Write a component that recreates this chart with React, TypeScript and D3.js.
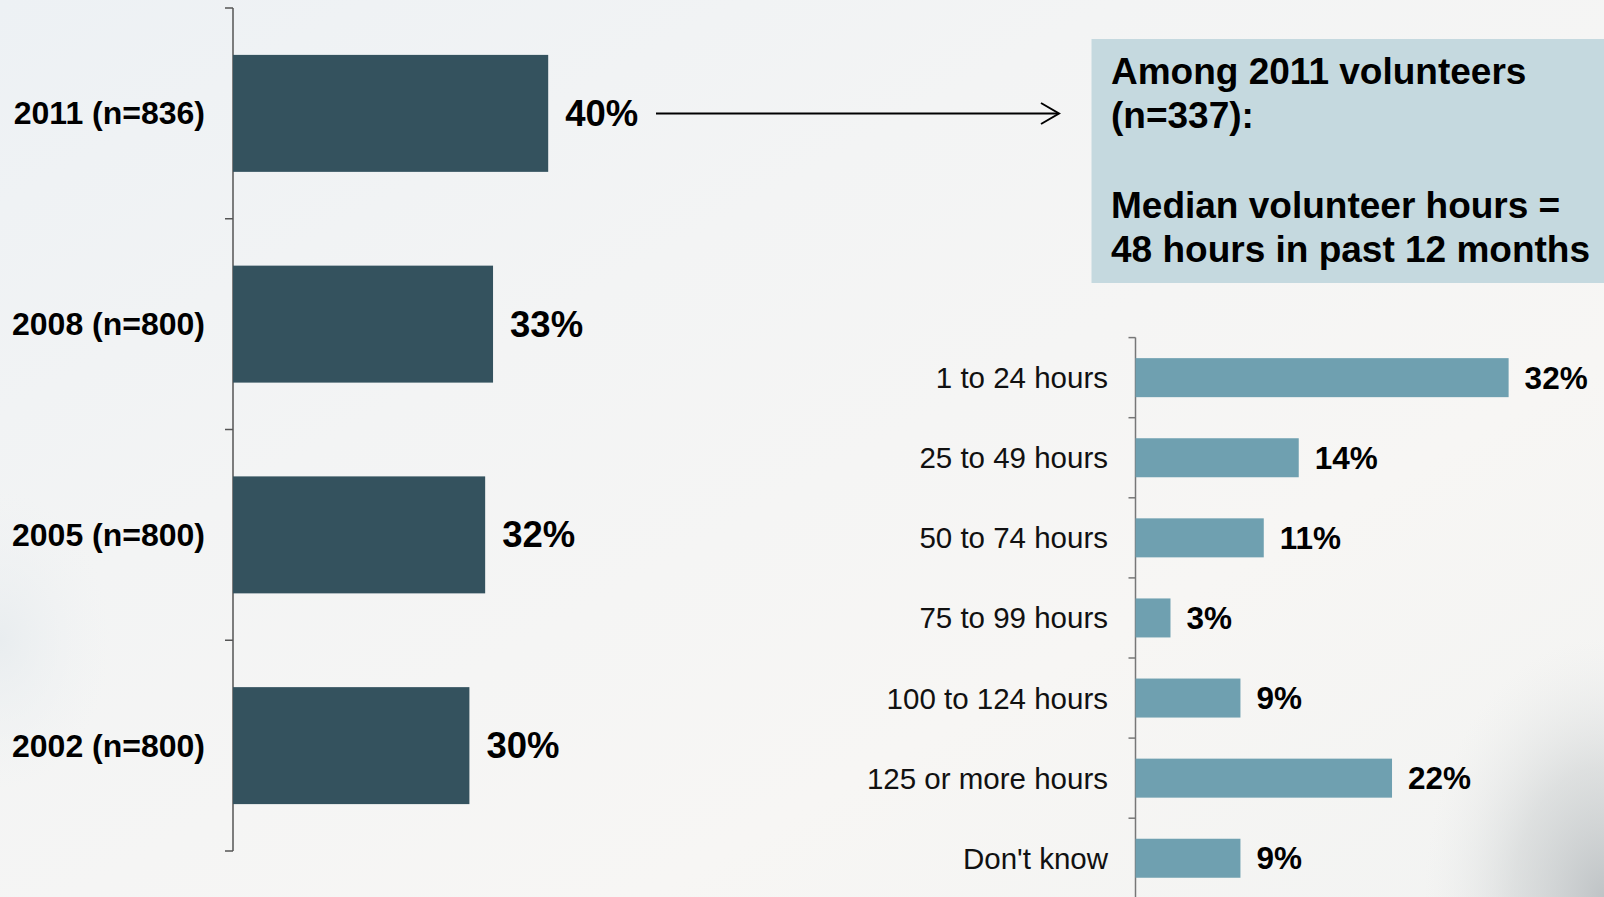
import React from "react";
import * as d3 from "d3";

const yearCategories = ["2011 (n=836)", "2008 (n=800)", "2005 (n=800)", "2002 (n=800)"];
const yearValues = [40, 33, 32, 30];

const hourCategories = [
  "1 to 24 hours",
  "25 to 49 hours",
  "50 to 74 hours",
  "75 to 99 hours",
  "100 to 124 hours",
  "125 or more hours",
  "Don't know",
];
const hourValues = [32, 14, 11, 3, 9, 22, 9];

const boxLines = ["Among 2011 volunteers", "(n=337):", "", "Median volunteer hours =", "48 hours in past 12 months"];

const W = 1604;
const H = 897;
const FONT = "'Liberation Sans', Arial, Helvetica, sans-serif";

export default function App() {
  // Left chart
  const leftX0 = 233;
  const xL = d3.scaleLinear().domain([0, 100]).range([leftX0, leftX0 + 788]);
  const yL = d3.scaleBand<string>().domain(yearCategories).range([8, 851]).paddingInner(0.445).paddingOuter(0.2225);
  const stepL = yL.step();
  const leftTicks = d3.range(yearCategories.length + 1).map((i) => 8 + i * stepL);

  // Right chart
  const rightX0 = 1135.5;
  const xR = d3.scaleLinear().domain([0, 100]).range([rightX0, rightX0 + 1166]);
  const yR = d3.scaleBand<string>().domain(hourCategories).range([337.6, 337.6 + 7 * 80.1]).paddingInner(0.513).paddingOuter(0.2565);
  const stepR = yR.step();
  const rightTicks = d3.range(hourCategories.length + 1).map((i) => 337.6 + i * stepR);

  const lineBaselines = [84, 128, 173, 218, 262];

  return (
    <svg width={W} height={H} style={{ position: "absolute", left: 0, top: 0, display: "block" }}>
      <defs>
        <linearGradient id="bg" x1="0" y1="0" x2="1" y2="1">
          <stop offset="0" stopColor="#edf1f4" />
          <stop offset="0.35" stopColor="#f3f4f4" />
          <stop offset="0.7" stopColor="#f7f6f4" />
          <stop offset="1" stopColor="#f2f3f2" />
        </linearGradient>
        <radialGradient id="cornerShade" cx="1604" cy="897" r="1" gradientUnits="userSpaceOnUse"
          gradientTransform="translate(1604 897) scale(180 260) translate(-1604 -897)">
          <stop offset="0" stopColor="#b6bbbe" stopOpacity="0.85" />
          <stop offset="0.5" stopColor="#c8cccd" stopOpacity="0.5" />
          <stop offset="1" stopColor="#e6e8e8" stopOpacity="0" />
        </radialGradient>
        <radialGradient id="leftShade" cx="0" cy="640" r="1" gradientUnits="userSpaceOnUse"
          gradientTransform="translate(0 640) scale(110 150) translate(0 -640)">
          <stop offset="0" stopColor="#e6ebee" stopOpacity="0.8" />
          <stop offset="1" stopColor="#eef1f3" stopOpacity="0" />
        </radialGradient>
      </defs>
      <rect x={0} y={0} width={W} height={H} fill="url(#bg)" />
      <rect x={1300} y={550} width={304} height={347} fill="url(#cornerShade)" />
      <rect x={0} y={450} width={200} height={380} fill="url(#leftShade)" />

      {/* Left chart */}
      <g>
        <line x1={leftX0} x2={leftX0} y1={8} y2={851} stroke="#555" strokeWidth={1.5} />
        {leftTicks.map((t, i) => (
          <line key={i} x1={leftX0 - 8} x2={leftX0} y1={t} y2={t} stroke="#555" strokeWidth={1.5} />
        ))}
        {yearCategories.map((c, i) => (
          <g key={c}>
            <rect x={xL(0)} y={yL(c)} width={xL(yearValues[i]) - xL(0)} height={yL.bandwidth()} fill="#34525e" />
            <text
              x={205}
              y={(yL(c) as number) + yL.bandwidth() / 2}
              textAnchor="end"
              dominantBaseline="central"
              fontFamily={FONT}
              fontWeight="bold"
              fontSize={32}
              fill="#000"
            >
              {c}
            </text>
            <text
              x={xL(yearValues[i]) + 17}
              y={(yL(c) as number) + yL.bandwidth() / 2}
              dominantBaseline="central"
              fontFamily={FONT}
              fontWeight="bold"
              fontSize={36.5}
              fill="#000"
            >
              {yearValues[i] + "%"}
            </text>
          </g>
        ))}
      </g>

      {/* Arrow */}
      <line x1={656} x2={1058} y1={113.5} y2={113.5} stroke="#000" strokeWidth={2} />
      <polyline points="1041,103 1059,113.5 1041,124" fill="none" stroke="#000" strokeWidth={2} />

      {/* Box */}
      <rect x={1091.5} y={39} width={W - 1091.5} height={244} fill="#c5d9df" />
      {boxLines.map((l, i) => (
        <text key={i} x={1111} y={lineBaselines[i]} fontFamily={FONT} fontWeight="bold" fontSize={37} fill="#000">
          {l}
        </text>
      ))}

      {/* Right chart */}
      <g>
        <line x1={rightX0} x2={rightX0} y1={337.6} y2={H} stroke="#777" strokeWidth={1.5} />
        {rightTicks.map((t, i) => (
          <line key={i} x1={rightX0 - 7} x2={rightX0} y1={t} y2={t} stroke="#777" strokeWidth={1.5} />
        ))}
        {hourCategories.map((c, i) => (
          <g key={c}>
            <rect x={xR(0)} y={yR(c)} width={xR(hourValues[i]) - xR(0)} height={yR.bandwidth()} fill="#6fa0b0" />
            <text
              x={1108}
              y={(yR(c) as number) + yR.bandwidth() / 2}
              textAnchor="end"
              dominantBaseline="central"
              fontFamily={FONT}
              fontSize={29.5}
              fill="#111"
            >
              {c}
            </text>
            <text
              x={xR(hourValues[i]) + 16}
              y={(yR(c) as number) + yR.bandwidth() / 2}
              dominantBaseline="central"
              fontFamily={FONT}
              fontWeight="bold"
              fontSize={31.5}
              fill="#000"
            >
              {hourValues[i] + "%"}
            </text>
          </g>
        ))}
      </g>
    </svg>
  );
}
